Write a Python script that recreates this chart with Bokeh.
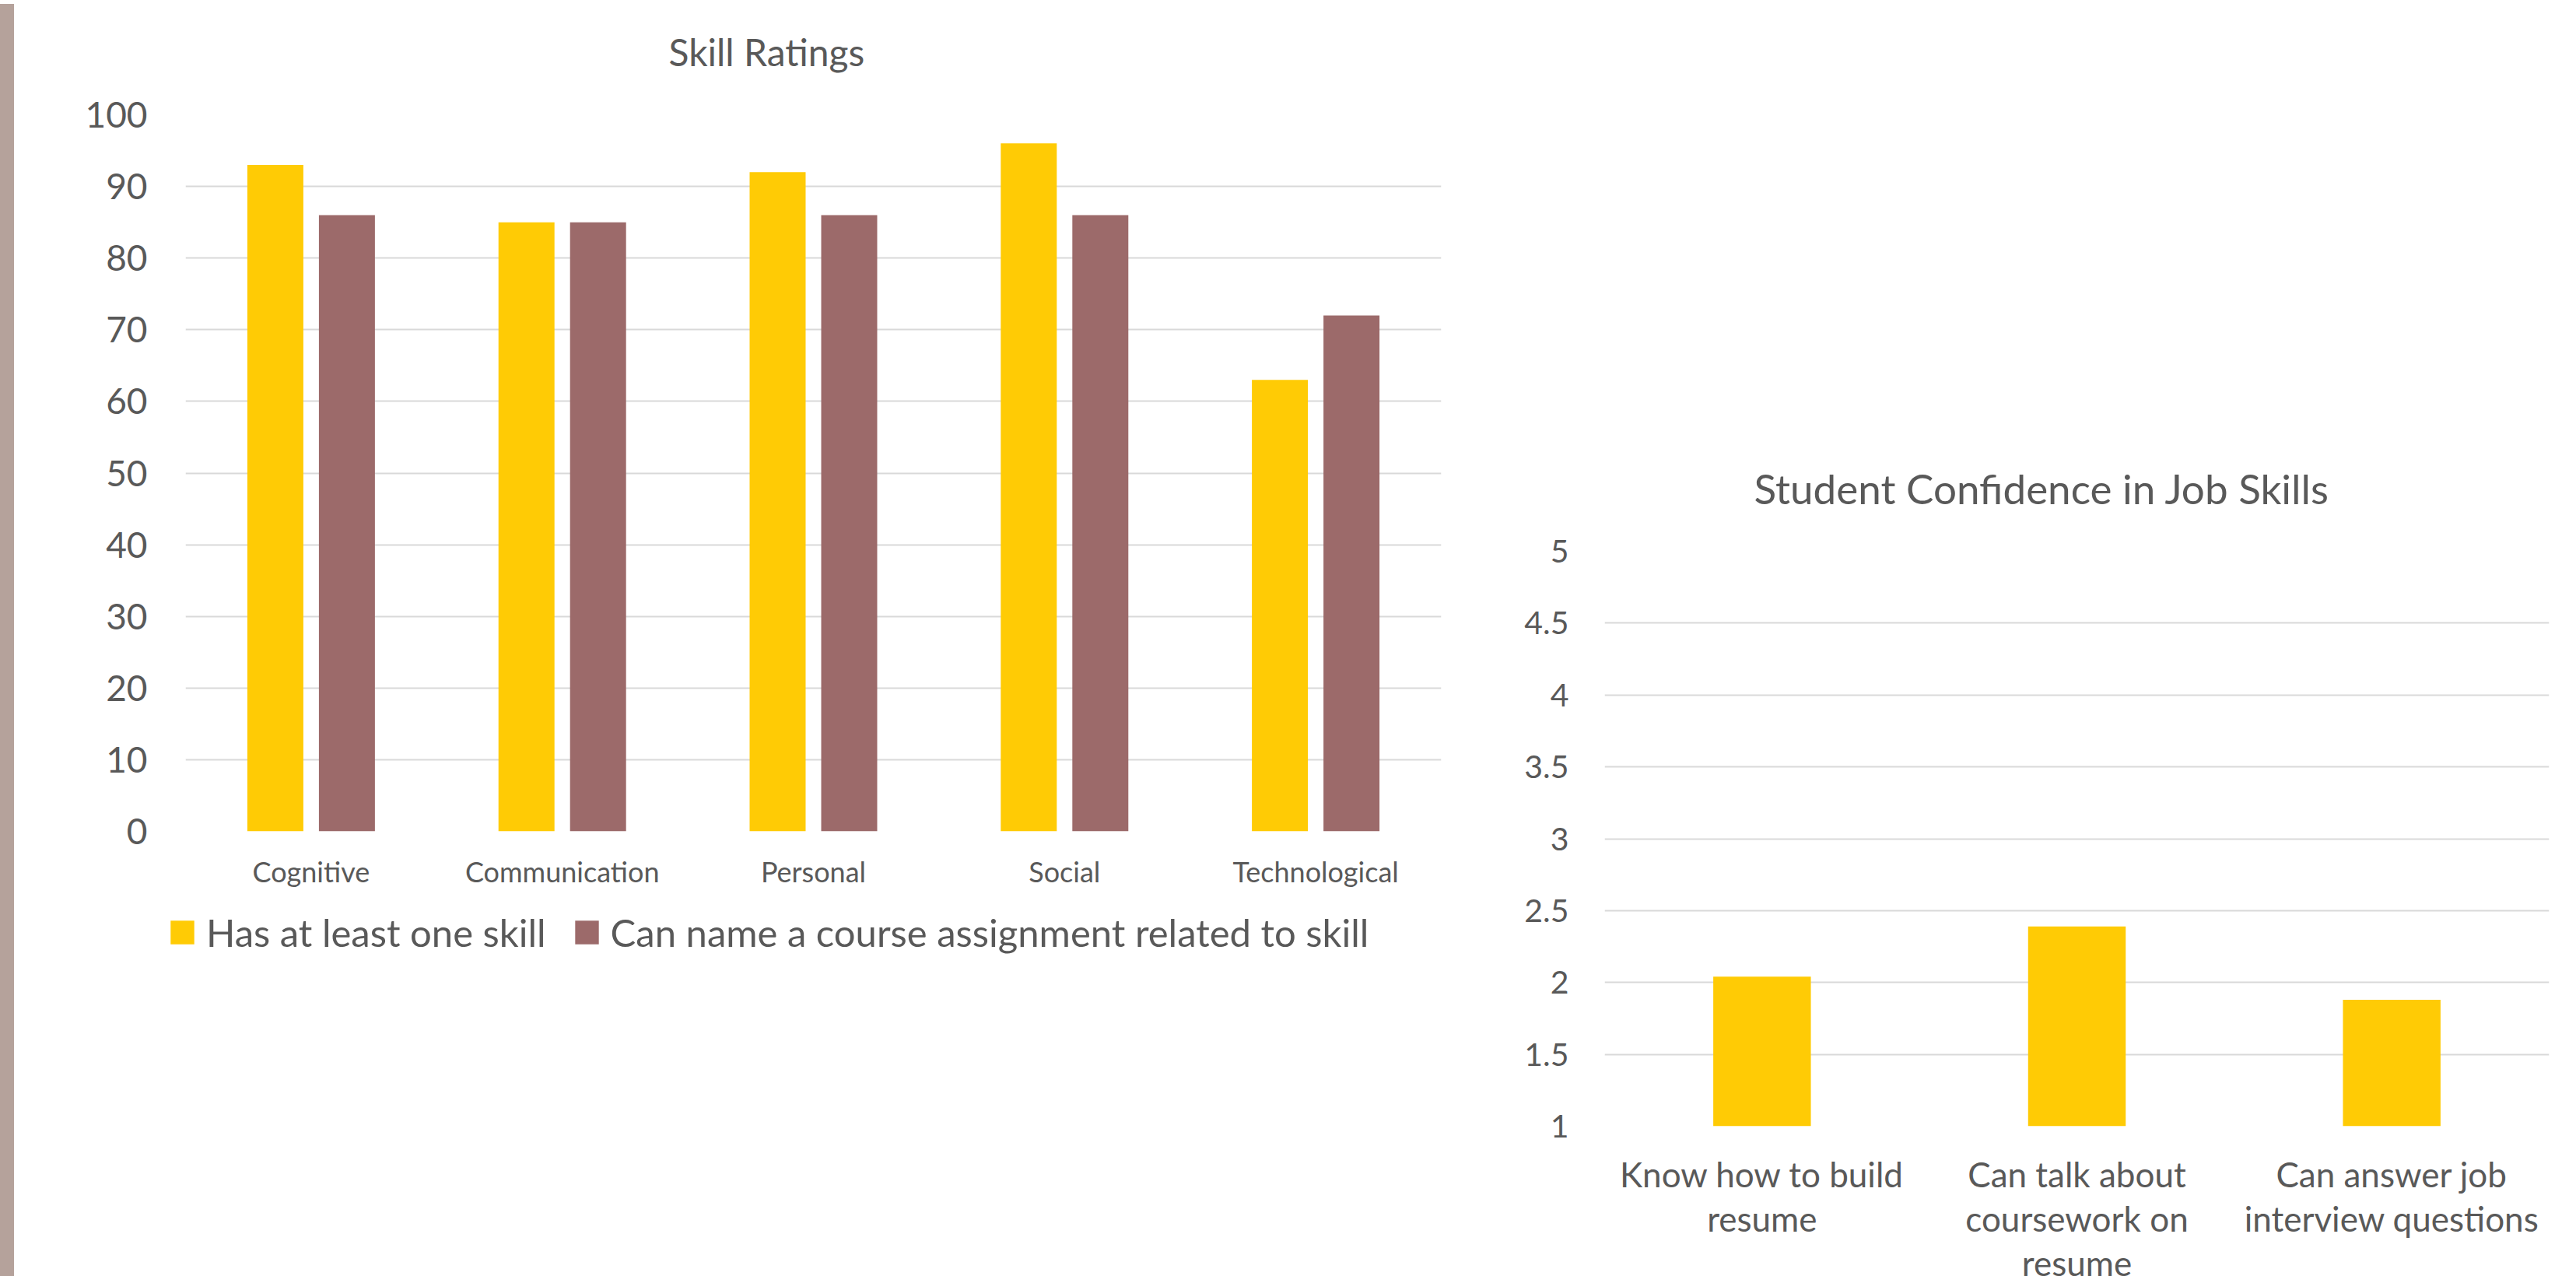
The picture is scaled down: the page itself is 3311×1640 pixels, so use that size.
from bokeh.plotting import figure
from bokeh.models import (ColumnDataSource, Range1d, FactorRange, Legend, LegendItem, Div,
                          FixedTicker, CategoricalAxis, Title)
from bokeh.layouts import row, column
from bokeh.transform import dodge
from bokeh.embed import file_html
from bokeh.resources import INLINE

# ---------------- data ----------------
skills = ["Cognitive", "Communication", "Personal", "Social", "Technological"]
has_skill = [93, 85, 92, 96, 63]
can_name_assignment = [86, 85, 86, 86, 72]
series_names = ["Has at least one skill", "Can name a course assignment related to skill"]

confidence_items = ["Know how to build resume", "Can talk about coursework on resume",
                    "Can answer job interview questions"]
# wrapped label lines (blank entries differ only so that factors stay unique)
label_line1 = ["Know how to build", "Can talk about", "Can answer job"]
label_line2 = ["resume", "coursework on", "interview questions"]
label_line3 = [" ", "resume", "  "]
confidence_values = [2.04, 2.39, 1.88]

left_ticks = [0, 10, 20, 30, 40, 50, 60, 70, 80, 90, 100]
right_ticks = [1, 1.5, 2, 2.5, 3, 3.5, 4, 4.5, 5]

# ---------------- styles ----------------
YELLOW = "#FFCB05"
BROWN = "#9C6A6A"
TEXT = "#595959"
GRID = "#D9D9D9"
STRIP = "#B5A29B"
FONT = "Lato"
H = 1624


def style_axis(ax):
    ax.axis_line_color = None
    ax.major_tick_line_color = None
    ax.minor_tick_line_color = None
    ax.major_tick_out = 0
    ax.major_tick_in = 0
    ax.major_label_text_color = TEXT
    ax.major_label_text_font = FONT


def style_common(p):
    p.outline_line_color = None
    p.background_fill_color = "white"
    p.border_fill_color = "white"
    p.xgrid.grid_line_color = None
    p.ygrid.grid_line_color = GRID
    p.ygrid.grid_line_width = 2
    for ax in list(p.xaxis) + list(p.yaxis):
        style_axis(ax)
    p.title.text_font = FONT
    p.title.text_color = TEXT
    p.title.text_font_style = "normal"
    p.title.align = "left"


# ---------------- left chart ----------------
src = ColumnDataSource(dict(skill=skills, has=has_skill, can=can_name_assignment))

TOP1, FH1 = 147, 921
p1 = figure(x_range=FactorRange(*skills), y_range=Range1d(0, 100),
            frame_width=1614, frame_height=FH1,
            min_border_left=215, min_border_right=50,
            min_border_top=TOP1, min_border_bottom=H - TOP1 - FH1,
            title="Skill Ratings",
            toolbar_location=None, output_backend="svg")
style_common(p1)
p1.title.text_font_size = "48px"
p1.title.standoff = 10
p1.title.offset = 621
# blank spacer band between the frame and the title
p1.add_layout(Title(text=" ", text_font_size="20px", standoff=24), "above")

p1.yaxis.ticker = FixedTicker(ticks=left_ticks)
p1.yaxis.major_label_text_font_size = "46px"
p1.yaxis.major_label_standoff = 49
p1.xaxis.major_label_text_font_size = "36px"
p1.xaxis.major_label_standoff = 29

r1 = p1.vbar(x=dodge("skill", -0.1425, range=p1.x_range), top="has", width=0.223,
             source=src, fill_color=YELLOW, line_color=None)
r2 = p1.vbar(x=dodge("skill", 0.1425, range=p1.x_range), top="can", width=0.223,
             source=src, fill_color=BROWN, line_color=None)

legend = Legend(items=[LegendItem(label=series_names[0], renderers=[r1]),
                       LegendItem(label=series_names[1], renderers=[r2])],
                location=(-23, 638), orientation="horizontal",
                glyph_width=38, glyph_height=38, label_height=30, label_standoff=12,
                padding=0, margin=0, spacing=33,
                border_line_color=None, background_fill_alpha=0,
                label_text_font=FONT, label_text_font_size="49px", label_text_color=TEXT)
p1.add_layout(legend, "below")

# ---------------- right chart ----------------
src2 = ColumnDataSource(dict(item=confidence_items, val=confidence_values))
TOP2, FH2 = 708, 739
p2 = figure(x_range=FactorRange(*confidence_items), y_range=Range1d(1, 5),
            frame_width=1214, frame_height=FH2,
            min_border_left=160, min_border_right=24,
            min_border_top=TOP2, min_border_bottom=H - TOP2 - FH2,
            x_axis_location=None,
            title="Student Confidence in Job Skills",
            toolbar_location=None, output_backend="svg")
p2.extra_x_ranges = {"l1": FactorRange(*label_line1),
                     "l2": FactorRange(*label_line2),
                     "l3": FactorRange(*label_line3)}
for name, stand in (("l1", 35), ("l2", 2), ("l3", 2)):
    ax = CategoricalAxis(x_range_name=name)
    style_axis(ax)
    ax.major_label_text_font_size = "44px"
    ax.major_label_standoff = stand
    p2.add_layout(ax, "below")
style_common(p2)
p2.title.text_font_size = "53px"
p2.title.standoff = 100
p2.title.offset = 192
p2.yaxis.ticker = FixedTicker(ticks=right_ticks)
p2.yaxis.major_label_text_font_size = "41px"
p2.yaxis.major_label_standoff = 46

p2.vbar(x="item", top="val", bottom=1, width=0.31, source=src2,
        fill_color=YELLOW, line_color=None)

strip = Div(width=13, height=H,
            styles={"background-color": STRIP,
                    "box-shadow": f"-8px 0 0 {STRIP}, 0 16px 0 {STRIP}, -8px 16px 0 {STRIP}"})

layout = row(strip, column(p1), column(p2))

open("out.html", "w").write(file_html(layout, INLINE))
